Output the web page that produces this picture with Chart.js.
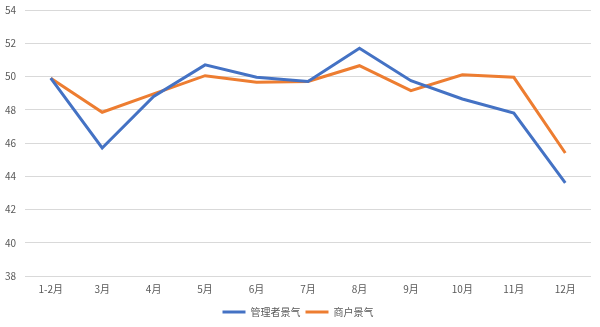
<!DOCTYPE html>
<html>
<head>
<meta charset="utf-8">
<script src="https://cdn.jsdelivr.net/npm/chart.js@4"></script>
<style>
  html, body { margin: 0; padding: 0; background: #ffffff; }
  #wrap { width: 600px; height: 327px; }
</style>
</head>
<body>
<div id="wrap"><canvas id="c" width="600" height="327"></canvas></div>
<script>
const months = ['1-2月', '3月', '4月', '5月', '6月', '7月', '8月', '9月', '10月', '11月', '12月'];
const managerIndex = [49.9, 45.7, 48.8, 50.7, 49.95, 49.7, 51.7, 49.75, 48.65, 47.8, 43.6];
const merchantIndex = [49.9, 47.85, 48.95, 50.05, 49.65, 49.7, 50.65, 49.15, 50.1, 49.95, 45.4];
const yTicks = [38, 40, 42, 44, 46, 48, 50, 52, 54];

const textColor = '#595959';
const fontFamily = '"Noto Sans CJK SC", "Noto Sans", sans-serif';

new Chart(document.getElementById('c'), {
  type: 'line',
  data: {
    labels: months,
    datasets: [
      {
        label: '管理者景气',
        data: managerIndex,
        borderColor: '#4472C4',
        backgroundColor: '#4472C4',
        borderWidth: 3,
        pointRadius: 0,
        tension: 0
      },
      {
        label: '商户景气',
        data: merchantIndex,
        borderColor: '#ED7D31',
        backgroundColor: '#ED7D31',
        borderWidth: 3,
        pointRadius: 0,
        tension: 0
      }
    ]
  },
  options: {
    responsive: false,
    animation: false,
    layout: { padding: { left: 5, right: 9, top: 0, bottom: 0 } },
    plugins: {
      tooltip: { enabled: false },
      legend: {
        position: 'bottom',
        labels: {
          boxWidth: 23,
          boxHeight: 3,
          padding: 5,
          color: textColor,
          font: { family: fontFamily, size: 10 },
          generateLabels: (chart) => {
            const items = Chart.defaults.plugins.legend.labels.generateLabels(chart);
            items.forEach(it => { it.lineWidth = 0; });
            return items;
          }
        }
      }
    },
    scales: {
      x: {
        offset: true,
        grid: { display: false, drawTicks: false },
        border: { display: false },
        ticks: {
          color: textColor,
          font: { family: fontFamily, size: 10 },
          padding: 7,
          maxRotation: 0
        }
      },
      y: {
        min: 38,
        max: 54,
        afterFit: (s) => { s.width = 20; },
        afterBuildTicks: (s) => { s.ticks = yTicks.map(v => ({ value: v })); },
        grid: { color: '#D9D9D9', lineWidth: 1, drawTicks: false },
        border: { display: false },
        ticks: {
          color: textColor,
          font: { family: fontFamily, size: 10 },
          padding: 4,
          crossAlign: 'far'
        }
      }
    }
  }
});
</script>
</body>
</html>
